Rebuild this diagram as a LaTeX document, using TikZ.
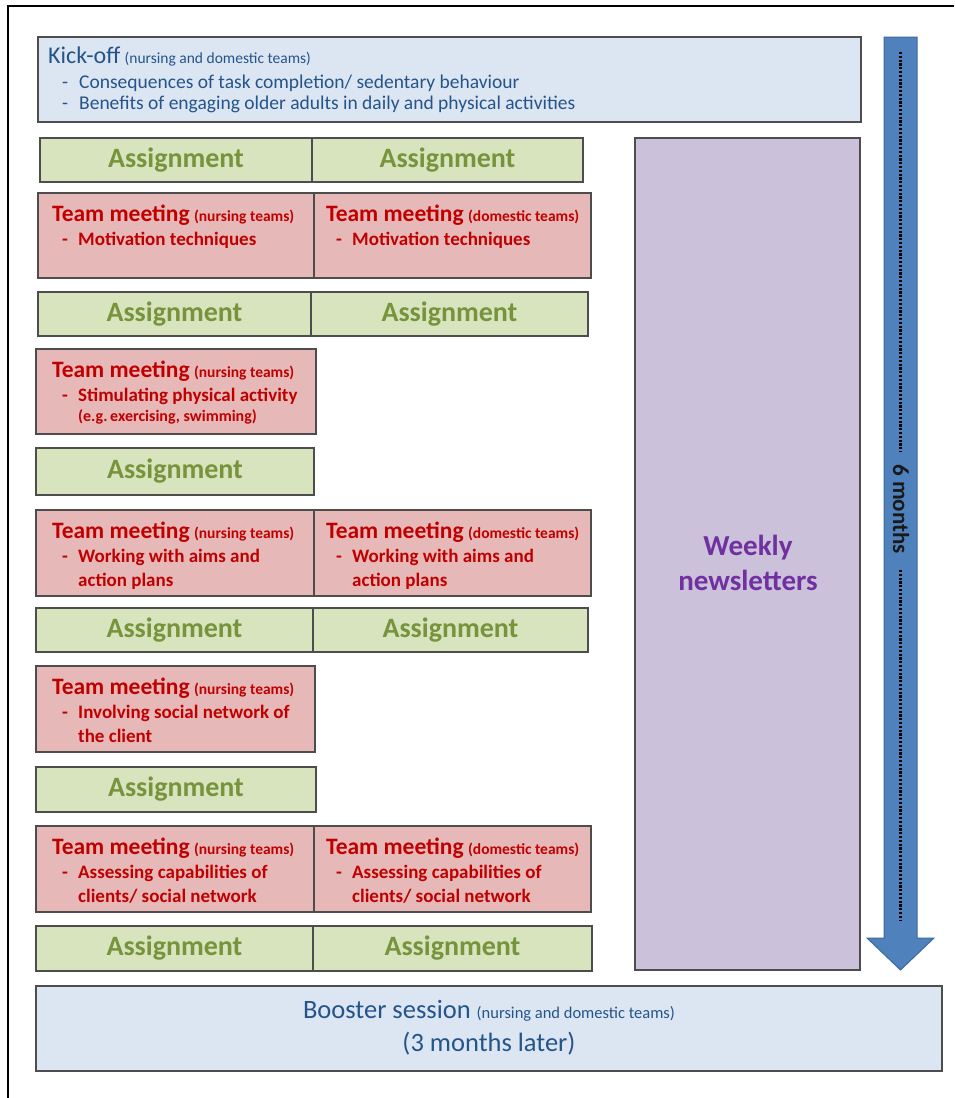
\documentclass[tikz,border=0pt]{standalone}
\usepackage{fontspec}
\setmainfont{Carlito}
\definecolor{boxline}{HTML}{4D4D4D}
\definecolor{asgfill}{HTML}{D7E4BD}
\definecolor{asgtext}{HTML}{77933C}
\definecolor{tmfill}{HTML}{E6B9B8}
\definecolor{tmtext}{HTML}{C00000}
\definecolor{kofill}{HTML}{DCE6F2}
\definecolor{kotext}{HTML}{24548A}
\definecolor{wfill}{HTML}{CCC1DA}
\definecolor{wtext}{HTML}{7030A0}
\definecolor{arrfill}{HTML}{4F81BD}
\definecolor{arrline}{HTML}{3D6A9E}
\newcommand{\tmtitle}[1]{{\fontsize{23.5}{24}\selectfont Team meeting} {\fontsize{15.5}{16}\selectfont (#1)}}
\newcommand{\tmbul}{\hspace*{10pt}\makebox[16pt][l]{-}}
\newcommand{\tmcont}{\hspace*{26pt}}
\newcommand{\kobul}{\hspace*{14pt}\makebox[17pt][l]{-}}
\begin{document}
\begin{tikzpicture}[x=1pt,y=-1pt,
  box/.style={draw=boxline, line width=1.6pt, anchor=north west, inner sep=0pt, outer sep=0pt},
  asg/.style={box, fill=asgfill, text=asgtext, font=\bfseries\fontsize{28}{30}\selectfont},
  tm/.style={box, fill=tmfill},
  tmtxt/.style={anchor=north west, inner sep=0pt, align=left, text=tmtext, font=\bfseries\fontsize{19}{24}\selectfont},
]
\useasboundingbox (0,0) rectangle (954,1098);
\fill[white] (0,0) rectangle (954,1098);
% outer frame
\draw[line width=1.5pt, black] (8,1098) -- (8,6) -- (954,6);

% kick-off
\node[box, fill=kofill, minimum width=823, minimum height=85] (ko) at (38,37) {};
\node[anchor=north west, inner sep=0pt, align=left, text=kotext, font=\fontsize{19.5}{21}\selectfont] (kot) at ([shift={(10,10)}]ko.north west)
  {{\fontsize{24}{26}\selectfont Kick-off} {\fontsize{15.5}{16}\selectfont (nursing and domestic teams)}\\[4pt]
   \kobul Consequences of task completion/ sedentary behaviour\\
   \kobul Benefits of engaging older adults in daily and physical activities};

% arrow
\draw[fill=arrfill, draw=arrline, line width=1pt] (884,37) -- (917,37) -- (917,938) -- (934,938) -- (900.5,970) -- (867,938) -- (884,938) -- cycle;
\coordinate (d1) at (900.5,52);
\coordinate (d2) at (900.5,452);
\coordinate (d3) at (900.5,570);
\coordinate (d4) at (900.5,920);
\draw[line width=2.3pt, black, dash pattern=on 2.2pt off 1.6pt] (d1) -- (d2);
\draw[line width=2.3pt, black, dash pattern=on 2.2pt off 1.6pt] (d3) -- (d4);
\node[rotate=-90, inner sep=0pt, text=black!90, font=\bfseries\fontsize{23}{25}\selectfont] (six) at (901,509) {6 months};

% weekly newsletters
\node[box, fill=wfill, minimum width=225, minimum height=832] (wk) at (635,138) {};
\node[inner sep=0pt, align=center, text=wtext, font=\bfseries\fontsize{29}{35}\selectfont] (wkt) at (748,563) {Weekly\\newsletters};

% row 1
\node[asg, minimum width=272, minimum height=44] (a1l) at (40,138) {Assignment};
\node[asg, minimum width=271, minimum height=44] (a1r) at (312,138) {Assignment};
% TM1
\node[tm, minimum width=276, minimum height=85] (m1l) at (38,193) {};
\node[tm, minimum width=277, minimum height=85] (m1r) at (314,193) {};
\node[tmtxt] (m1lt) at ([shift={(14,12)}]m1l.north west) {\tmtitle{nursing teams}\\ \tmbul Motivation techniques};
\node[tmtxt] (m1rt) at ([shift={(12,12)}]m1r.north west) {\tmtitle{domestic teams}\\ \tmbul Motivation techniques};
% row 2
\node[asg, minimum width=273, minimum height=44] (a2l) at (38,292) {Assignment};
\node[asg, minimum width=277, minimum height=44] (a2r) at (311,292) {Assignment};
% TM2
\node[tm, minimum width=280, minimum height=85] (m2l) at (36,349) {};
\node[tmtxt] (m2lt) at ([shift={(16,12)}]m2l.north west) {\tmtitle{nursing teams}\\ \tmbul Stimulating physical activity\\[-4pt] \tmcont{\fontsize{16}{20}\selectfont (e.g.\,exercising, swimming)}};
% row 3
\node[asg, minimum width=278, minimum height=47] (a3l) at (36,448) {Assignment};
% TM3
\node[tm, minimum width=278, minimum height=86] (m3l) at (36,510) {};
\node[tm, minimum width=277, minimum height=86] (m3r) at (314,510) {};
\node[tmtxt] (m3lt) at ([shift={(16,12)}]m3l.north west) {\tmtitle{nursing teams}\\ \tmbul Working with aims and\\ \tmcont action plans};
\node[tmtxt] (m3rt) at ([shift={(12,12)}]m3r.north west) {\tmtitle{domestic teams}\\ \tmbul Working with aims and\\ \tmcont action plans};
% row 4
\node[asg, minimum width=277, minimum height=44] (a4l) at (36,608) {Assignment};
\node[asg, minimum width=275, minimum height=44] (a4r) at (313,608) {Assignment};
% TM4
\node[tm, minimum width=279, minimum height=86] (m4l) at (36,666) {};
\node[tmtxt] (m4lt) at ([shift={(16,12)}]m4l.north west) {\tmtitle{nursing teams}\\ \tmbul Involving social network of\\ \tmcont the client};
% row 5
\node[asg, minimum width=280, minimum height=45] (a5l) at (36,767) {Assignment};
% TM5
\node[tm, minimum width=278, minimum height=86] (m5l) at (36,826) {};
\node[tm, minimum width=277, minimum height=86] (m5r) at (314,826) {};
\node[tmtxt] (m5lt) at ([shift={(16,12)}]m5l.north west) {\tmtitle{nursing teams}\\ \tmbul Assessing capabilities of\\ \tmcont clients/ social network};
\node[tmtxt] (m5rt) at ([shift={(12,12)}]m5r.north west) {\tmtitle{domestic teams}\\ \tmbul Assessing capabilities of\\ \tmcont clients/ social network};
% row 6
\node[asg, minimum width=277, minimum height=45] (a6l) at (36,926) {Assignment};
\node[asg, minimum width=279, minimum height=45] (a6r) at (313,926) {Assignment};

% booster
\node[box, fill=kofill, minimum width=906, minimum height=85] (bo) at (36,986) {};
\node[inner sep=0pt, align=center, text=kotext, font=\fontsize{26.5}{33}\selectfont] (bot) at (489,1028)
  {Booster session {\fontsize{16.5}{17}\selectfont (nursing and domestic teams)}\\ (3 months later)};
\end{tikzpicture}
\end{document}
